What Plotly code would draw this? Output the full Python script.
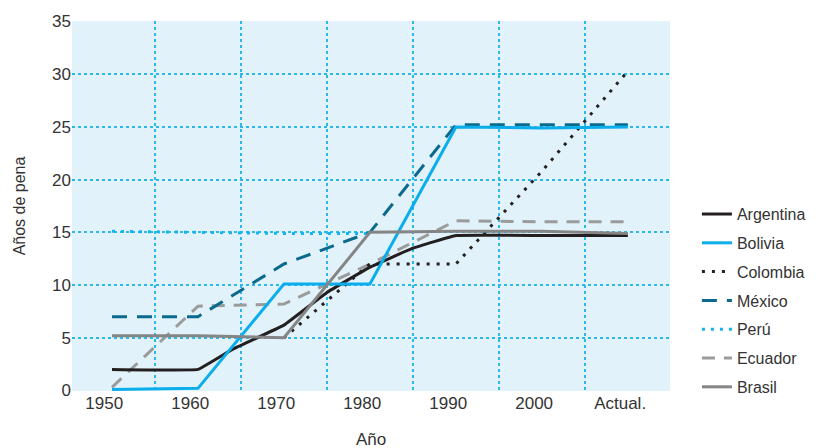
import plotly.graph_objects as go

categories = ["1950", "1960", "1970", "1980", "1990", "2000", "Actual."]
years = [1950, 1960, 1970, 1980, 1990, 2000, 2010]
# Argentina is read at extra positions because its line is curved
argentina_years = [1950, 1960, 1964, 1970, 1975, 1980, 1985, 1990, 2000, 2010]
argentina = [2, 2, 3.9, 6.2, 9.3, 11.7, 13.5, 14.7, 14.7, 14.7]
bolivia = [0.1, 0.2, 10.1, 10.1, 25, 24.9, 25]
colombia = [None, None, 5, 12, 12, 20.8, 30.3]
mexico = [7, 7, 12, 15, 25.2, 25.2, 25.2]
peru = [15.1, 15, 14.9, 14.9, None, None, None]
ecuador = [0.3, 8, 8.2, 12, 16.1, 16, 16]
brasil = [5.2, 5.2, 5, 15, 15.1, 15.1, 14.9]
yticks = [0, 5, 10, 15, 20, 25, 30, 35]

font = "Liberation Sans, Arial, sans-serif"
txt = "#333333"

fig = go.Figure()

series = [
    # name, x, values, color, dash, legendrank, shape
    ("Perú", years, peru, "#16B4EE", "3px,6px", 5, "linear"),
    ("Ecuador", years, ecuador, "#9B9B9B", "13px,9px", 6, "linear"),
    ("México", years, mexico, "#0B6A8C", "15px,10px", 4, "linear"),
    ("Colombia", years, colombia, "#231F20", "3px,7px", 3, "linear"),
    ("Argentina", argentina_years, argentina, "#231F20", "solid", 1, "spline"),
    ("Bolivia", years, bolivia, "#0BAEEB", "solid", 2, "linear"),
    ("Brasil", years, brasil, "#858585", "solid", 7, "linear"),
]
for name, xv, vals, color, dash, rank, shape in series:
    line = dict(color=color, width=3, dash=dash, shape=shape)
    if shape == "spline":
        line["smoothing"] = 0.2
    fig.add_trace(go.Scatter(
        x=xv, y=vals, mode="lines", name=name, line=line,
        legendrank=rank, legendgroup=name, connectgaps=False,
    ))

# invisible trace for the grid axis
fig.add_trace(go.Scatter(x=[1950], y=[0], xaxis="x2", mode="markers",
                         marker=dict(opacity=0), showlegend=False, hoverinfo="skip"))

gridc = "#2DB8EA"
xr = [1945.35, 2014.9]
fig.update_layout(
    width=818, height=448,
    margin=dict(l=64, r=156, t=13, b=65),
    paper_bgcolor="white",
    plot_bgcolor="#E1F2FA",
    font=dict(family=font, size=17, color=txt),
    showlegend=True,
    legend=dict(x=1.045, y=0.524, xanchor="left", yanchor="top",
                font=dict(size=16, color=txt), tracegroupgap=5,
                itemwidth=30, bgcolor="rgba(0,0,0,0)"),
    xaxis=dict(
        range=xr, automargin=False,
        tickvals=[y - 0.9 for y in years], ticktext=categories,
        showgrid=False, zeroline=False, showline=False, ticks="",
        tickfont=dict(size=17, color=txt),
        title=dict(text="Año", font=dict(size=17, color=txt), standoff=21),
    ),
    xaxis2=dict(
        overlaying="x", range=xr,
        tickvals=[y + 5 for y in years[:-1]], showticklabels=False,
        showgrid=True, gridcolor=gridc, griddash="dot", gridwidth=1.5,
        zeroline=False, showline=False, ticks="",
    ),
    yaxis=dict(
        range=[-0.05, 35.05], tickvals=yticks, automargin=False,
        showgrid=True, gridcolor=gridc, griddash="dot", gridwidth=1.5,
        zeroline=False, showline=False, ticks="",
        tickfont=dict(size=17, color=txt),
        title=dict(text="Años de pena", font=dict(size=16, color=txt), standoff=22),
    ),
)

fig.write_html("out.html")
